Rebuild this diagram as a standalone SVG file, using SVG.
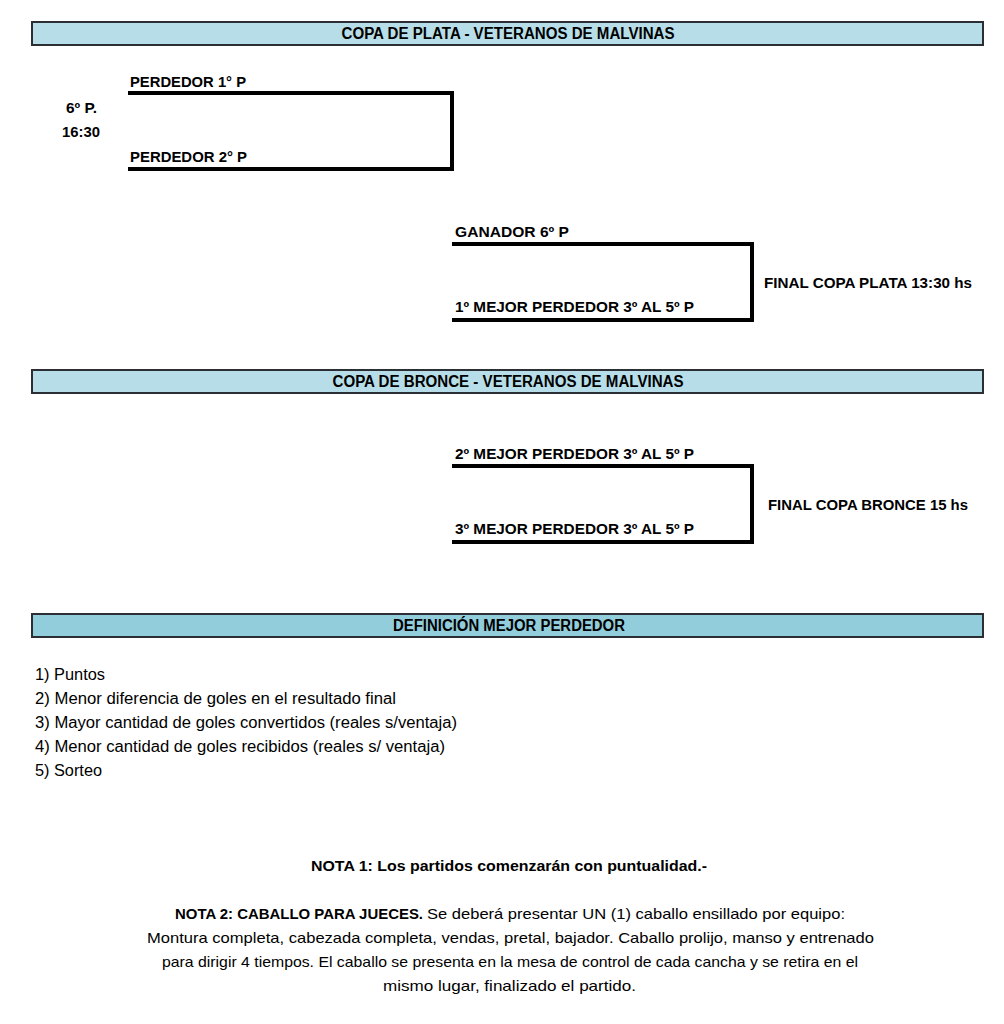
<svg xmlns="http://www.w3.org/2000/svg" width="1004" height="1024" viewBox="0 0 1004 1024">
<style>
.bg{fill:#ffffff}
.ban{stroke:#2b2f33;stroke-width:2}
.b1{fill:#b7dee8}
.b2{fill:#92cddc}
.ht{font-family:"Liberation Sans",Arial,sans-serif;font-weight:bold;font-size:16px;fill:#000;text-anchor:middle}
.lb{font-family:"Liberation Sans",Arial,sans-serif;font-weight:bold;font-size:15px;fill:#000}
.tx{font-family:"Liberation Sans",Arial,sans-serif;font-size:16px;fill:#000}
.nb{font-family:"Liberation Sans",Arial,sans-serif;font-size:15px;fill:#000}
.br{fill:none;stroke:#000;stroke-width:4;stroke-linejoin:miter}
</style>
<rect class="bg" x="0" y="0" width="1004" height="1024"/>
<g id="header-plata">
<rect class="ban b1" x="32" y="22" width="951" height="23"/>
<text class="ht" x="508" y="39" textLength="333" lengthAdjust="spacingAndGlyphs">COPA DE PLATA - VETERANOS DE MALVINAS</text>
</g>
<g id="header-bronce">
<rect class="ban b1" x="32" y="370" width="951" height="23"/>
<text class="ht" x="508" y="387" textLength="351" lengthAdjust="spacingAndGlyphs">COPA DE BRONCE - VETERANOS DE MALVINAS</text>
</g>
<g id="header-definicion">
<rect class="ban b2" x="32" y="614" width="951" height="23"/>
<text class="ht" x="509" y="631" textLength="232" lengthAdjust="spacingAndGlyphs">DEFINICIÓN MEJOR PERDEDOR</text>
</g>
<g id="connectors">
<path class="br" d="M128,93 H452 V169 H128"/>
<path class="br" d="M452,244 H752 V320 H452"/>
<path class="br" d="M452,466 H752 V542 H452"/>
</g>
<g id="match-6">
<text class="lb" x="66" y="113" textLength="31" lengthAdjust="spacingAndGlyphs">6º P.</text>
<text class="lb" x="62" y="137" textLength="38" lengthAdjust="spacingAndGlyphs">16:30</text>
<text class="lb" x="130" y="87" textLength="116" lengthAdjust="spacingAndGlyphs">PERDEDOR 1° P</text>
<text class="lb" x="130" y="162" textLength="117" lengthAdjust="spacingAndGlyphs">PERDEDOR 2° P</text>
</g>
<g id="final-plata">
<text class="lb" x="455" y="237" textLength="114" lengthAdjust="spacingAndGlyphs">GANADOR 6º P</text>
<text class="lb" x="455" y="312" textLength="239" lengthAdjust="spacingAndGlyphs">1º MEJOR PERDEDOR 3º AL 5º P</text>
<text class="lb" x="764" y="288" textLength="208" lengthAdjust="spacingAndGlyphs">FINAL COPA PLATA 13:30 hs</text>
</g>
<g id="final-bronce">
<text class="lb" x="455" y="459" textLength="239" lengthAdjust="spacingAndGlyphs">2º MEJOR PERDEDOR 3º AL 5º P</text>
<text class="lb" x="455" y="534" textLength="239" lengthAdjust="spacingAndGlyphs">3º MEJOR PERDEDOR 3º AL 5º P</text>
<text class="lb" x="768" y="510" textLength="200" lengthAdjust="spacingAndGlyphs">FINAL COPA BRONCE 15 hs</text>
</g>
<g id="criterios">
<text class="tx" x="35" y="680" textLength="70" lengthAdjust="spacingAndGlyphs">1) Puntos</text>
<text class="tx" x="35" y="704" textLength="361" lengthAdjust="spacingAndGlyphs">2) Menor diferencia de goles en el resultado final</text>
<text class="tx" x="35" y="728" textLength="422" lengthAdjust="spacingAndGlyphs">3) Mayor cantidad de goles convertidos (reales s/ventaja)</text>
<text class="tx" x="35" y="752" textLength="410" lengthAdjust="spacingAndGlyphs">4) Menor cantidad de goles recibidos (reales s/ ventaja)</text>
<text class="tx" x="35" y="776" textLength="67" lengthAdjust="spacingAndGlyphs">5) Sorteo</text>
</g>
<g id="notas">
<text class="lb" x="311" y="871" textLength="396" lengthAdjust="spacingAndGlyphs">NOTA 1:  Los partidos comenzarán con puntualidad.-</text>
<text class="lb" x="175" y="919" textLength="248" lengthAdjust="spacingAndGlyphs">NOTA 2: CABALLO PARA JUECES.</text>
<text class="nb" x="427" y="919" textLength="418" lengthAdjust="spacingAndGlyphs">Se deberá presentar UN (1) caballo ensillado por equipo:</text>
<text class="nb" x="147" y="943" textLength="727" lengthAdjust="spacingAndGlyphs">Montura completa, cabezada completa, vendas, pretal, bajador. Caballo prolijo, manso y entrenado</text>
<text class="nb" x="162" y="967" textLength="696" lengthAdjust="spacingAndGlyphs">para dirigir 4 tiempos. El caballo se presenta en la mesa de control de cada cancha y se retira en el</text>
<text class="nb" x="383" y="991" textLength="253" lengthAdjust="spacingAndGlyphs">mismo lugar, finalizado el partido.</text>
</g>
</svg>
